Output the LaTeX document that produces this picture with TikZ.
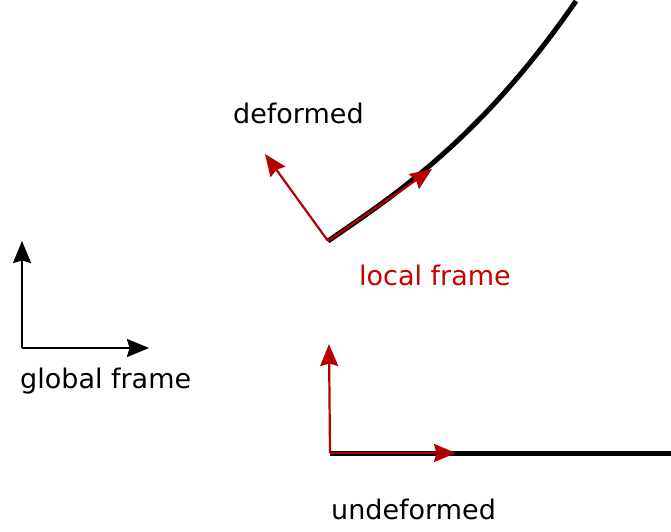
\documentclass[tikz,border=0pt]{standalone}
\usepackage{fontspec}
\setmainfont{DejaVu Sans}
\usetikzlibrary{arrows.meta}
\definecolor{arrred}{RGB}{180,0,0}
\definecolor{txtred}{RGB}{200,0,0}
\begin{document}
\begin{tikzpicture}[x=1pt,y=-1pt,
  lbl/.style={anchor=base west,inner sep=0pt,font=\fontsize{27}{32}\selectfont},
  blackarrow/.style={line width=2pt,-{Stealth[length=22pt,width=18pt,inset=2.5pt]}},
  redarrow/.style={draw=arrred,line width=2.2pt,-{Stealth[length=22pt,width=18pt,inset=2.5pt]},arrred},
  beam/.style={line width=5pt}]
\useasboundingbox (0,0) rectangle (671,531);
% global frame
\coordinate (g0) at (22,348);
\coordinate (gy) at (22,241);
\coordinate (gx) at (149,348);
\draw[blackarrow] (g0) -- (gy);
\draw[blackarrow] (g0) -- (gx);
\node[lbl] (glabel) at (20,388) {global frame};
% deformed
\coordinate (d0) at (328,241);
\coordinate (dend) at (576,1);
\coordinate (dy) at (265,154);
\coordinate (dx) at (432,169);
\draw[beam] (d0) .. controls (394,195.5) and (480,140) .. (dend);
\draw[redarrow] (d0) -- (dy);
\draw[redarrow] (d0) -- (dx);
\node[lbl] (dlabel) at (233,123) {deformed};
\node[lbl,text=txtred] (llabel) at (359,285) {local frame};
% undeformed
\coordinate (u0) at (330,453);
\coordinate (uend) at (671,453);
\coordinate (uy) at (329,344);
\coordinate (ux) at (456,453);
\draw[beam] (u0) -- (uend);
\draw[redarrow] (u0) -- (uy);
\draw[redarrow] (u0) -- (ux);
\node[lbl] (ulabel) at (331,519) {undeformed};
\end{tikzpicture}
\end{document}
